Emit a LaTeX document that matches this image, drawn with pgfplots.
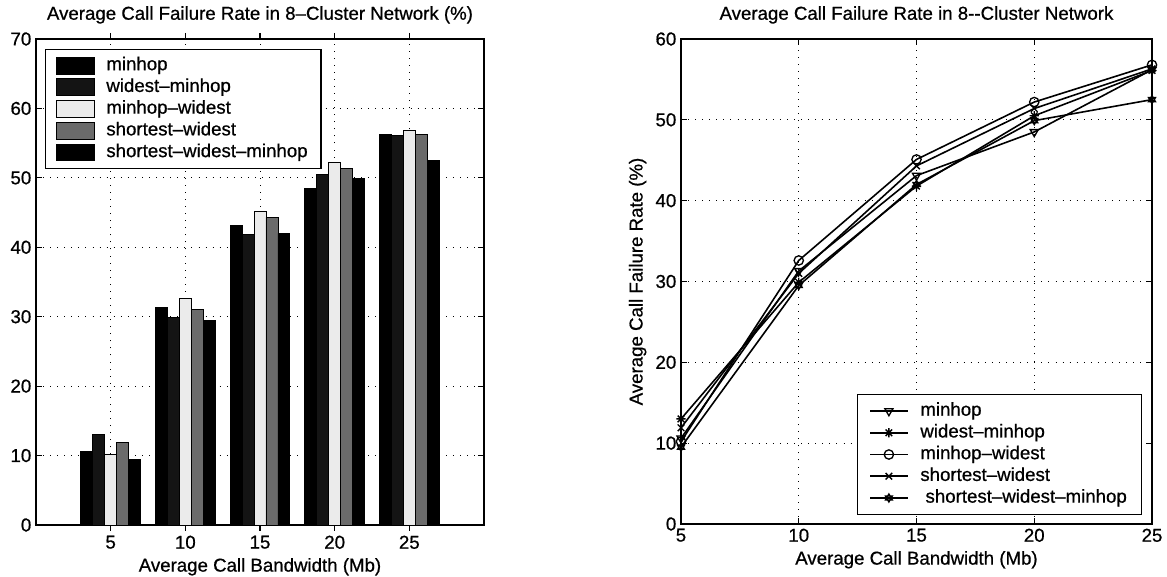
\documentclass[border=0pt]{standalone}
\usepackage{pgfplots}
\usepackage{pgfplotstable}
\pgfplotsset{compat=1.18}
\usepackage{fontspec}
\setmainfont{Liberation Sans}[FakeBold=0.7]
\usetikzlibrary{plotmarks}

\pgfdeclareplotmark{mstar}{%
  \pgfpathmoveto{\pgfpoint{-\pgfplotmarksize}{0pt}}\pgfpathlineto{\pgfpoint{\pgfplotmarksize}{0pt}}%
  \pgfpathmoveto{\pgfpoint{0pt}{-\pgfplotmarksize}}\pgfpathlineto{\pgfpoint{0pt}{\pgfplotmarksize}}%
  \pgfpathmoveto{\pgfpoint{-0.707\pgfplotmarksize}{-0.707\pgfplotmarksize}}\pgfpathlineto{\pgfpoint{0.707\pgfplotmarksize}{0.707\pgfplotmarksize}}%
  \pgfpathmoveto{\pgfpoint{-0.707\pgfplotmarksize}{0.707\pgfplotmarksize}}\pgfpathlineto{\pgfpoint{0.707\pgfplotmarksize}{-0.707\pgfplotmarksize}}%
  \pgfusepathqstroke}
\pgfdeclareplotmark{hexagram}{%
  \pgfpathmoveto{\pgfpointpolar{90}{\pgfplotmarksize}}%
  \pgfpathlineto{\pgfpointpolar{210}{\pgfplotmarksize}}%
  \pgfpathlineto{\pgfpointpolar{330}{\pgfplotmarksize}}%
  \pgfpathclose
  \pgfpathmoveto{\pgfpointpolar{270}{\pgfplotmarksize}}%
  \pgfpathlineto{\pgfpointpolar{30}{\pgfplotmarksize}}%
  \pgfpathlineto{\pgfpointpolar{150}{\pgfplotmarksize}}%
  \pgfpathclose
  \pgfusepathqstroke}

\pgfplotstableread{
x   mh   wm   mw   sw   swm
5   10.6 13.0 10.2 11.9 9.5
10  31.3 29.9 32.6 31.0 29.5
15  43.1 41.8 45.1 44.3 42.0
20  48.5 50.5 52.2 51.4 49.9
25  56.2 56.1 56.8 56.3 52.5
}\data

\pgfplotsset{
  mystyle/.style={
    scale only axis,
    font=\fontsize{14}{16}\selectfont,
    /pgf/number format/assume math mode=true,
    axis line style={line width=1pt},
    tick align=inside,
    xtick pos=both, ytick pos=both,
    major tick length=4.5pt,
    tick style={line width=0.8pt, black},
    grid=major,
    major grid style={black, line width=0.7pt, dash pattern=on 0.7pt off 4.6pt},
    title style={at={(0.5,1)}, anchor=south, yshift=2pt},
    legend cell align=left,
    legend style={draw=black, line width=0.9pt, font=\fontsize{14}{16}\selectfont,
      row sep=0pt,
      nodes={inner ysep=1.15pt, text height=10.5pt, text depth=3.5pt}},
  }
}

\begin{document}
\begin{tikzpicture}
\useasboundingbox (0,0) rectangle (875.25pt,432.75pt);

\begin{axis}[mystyle,
  at={(27pt,39pt)}, anchor=south west,
  width=336pt, height=364.5pt,
  xmin=0, xmax=6, ymin=0, ymax=70,
  xtick={1,2,3,4,5}, xticklabels={5,10,15,20,25},
  ytick={0,10,...,70},
  ybar=0pt, bar width=0.16,
  title={Average Call Failure Rate in 8–Cluster Network (\%)},
  xlabel={Average Call Bandwidth (Mb)},
  legend style={at={(0.02,0.98)}, anchor=north west, inner xsep=8pt, inner ysep=4pt,
    /tikz/every odd column/.append style={column sep=6.5pt}},
  legend image code/.code={\draw[#1, line width=0.6pt] (0pt,-6.3pt) rectangle (28.5pt,6.3pt);},
]
\addplot[fill=black, draw=black, line width=0.6pt] table[x expr=\coordindex+1, y=mh] {\data};
\addplot[fill=black!92, draw=black, line width=0.6pt] table[x expr=\coordindex+1, y=wm] {\data};
\addplot[fill=black!8, draw=black, line width=0.6pt] table[x expr=\coordindex+1, y=mw] {\data};
\addplot[fill=black!58, draw=black, line width=0.6pt] table[x expr=\coordindex+1, y=sw] {\data};
\addplot[fill=black, draw=black, line width=0.6pt] table[x expr=\coordindex+1, y=swm] {\data};
\legend{minhop, widest–minhop, minhop–widest, shortest–widest, shortest–widest–minhop}
\end{axis}

\begin{axis}[mystyle,
  at={(510.75pt,39.75pt)}, anchor=south west,
  width=353.25pt, height=363.75pt,
  xmin=5, xmax=25, ymin=0, ymax=60,
  xtick={5,10,...,25}, ytick={0,10,...,60},
  title={Average Call Failure Rate in 8-{}-Cluster Network},
  xlabel={Average Call Bandwidth (Mb)},
  ylabel={Average Call Failure Rate (\%)},
  legend style={at={(0.979,0.019)}, anchor=south east, inner xsep=9pt, inner ysep=4pt,
    /tikz/every odd column/.append style={column sep=7pt}},
  every axis plot/.append style={black, line width=1.2pt, mark size=3.5pt, mark options={solid, line width=1pt}},
  legend image code/.code={\draw[#1] (0pt,0pt) -- (14pt,0pt) (28pt,0pt) -- (14pt,0pt);
     \draw[#1, only marks] plot coordinates {(14pt,0pt)};},
]
\addplot[mark=triangle, mark options={rotate=180, line width=1pt, fill=white}] table[x=x, y=mh] {\data};
\addplot[mark=mstar] table[x=x, y=wm] {\data};
\addplot[mark=o, mark options={fill=white, line width=1pt}] table[x=x, y=mw] {\data};
\addplot[mark=x] table[x=x, y=sw] {\data};
\addplot[mark=hexagram, mark size=3pt] table[x=x, y=swm] {\data};
\legend{minhop, widest–minhop, minhop–widest, shortest–widest, \ shortest–widest–minhop}
\end{axis}
\end{tikzpicture}
\end{document}
